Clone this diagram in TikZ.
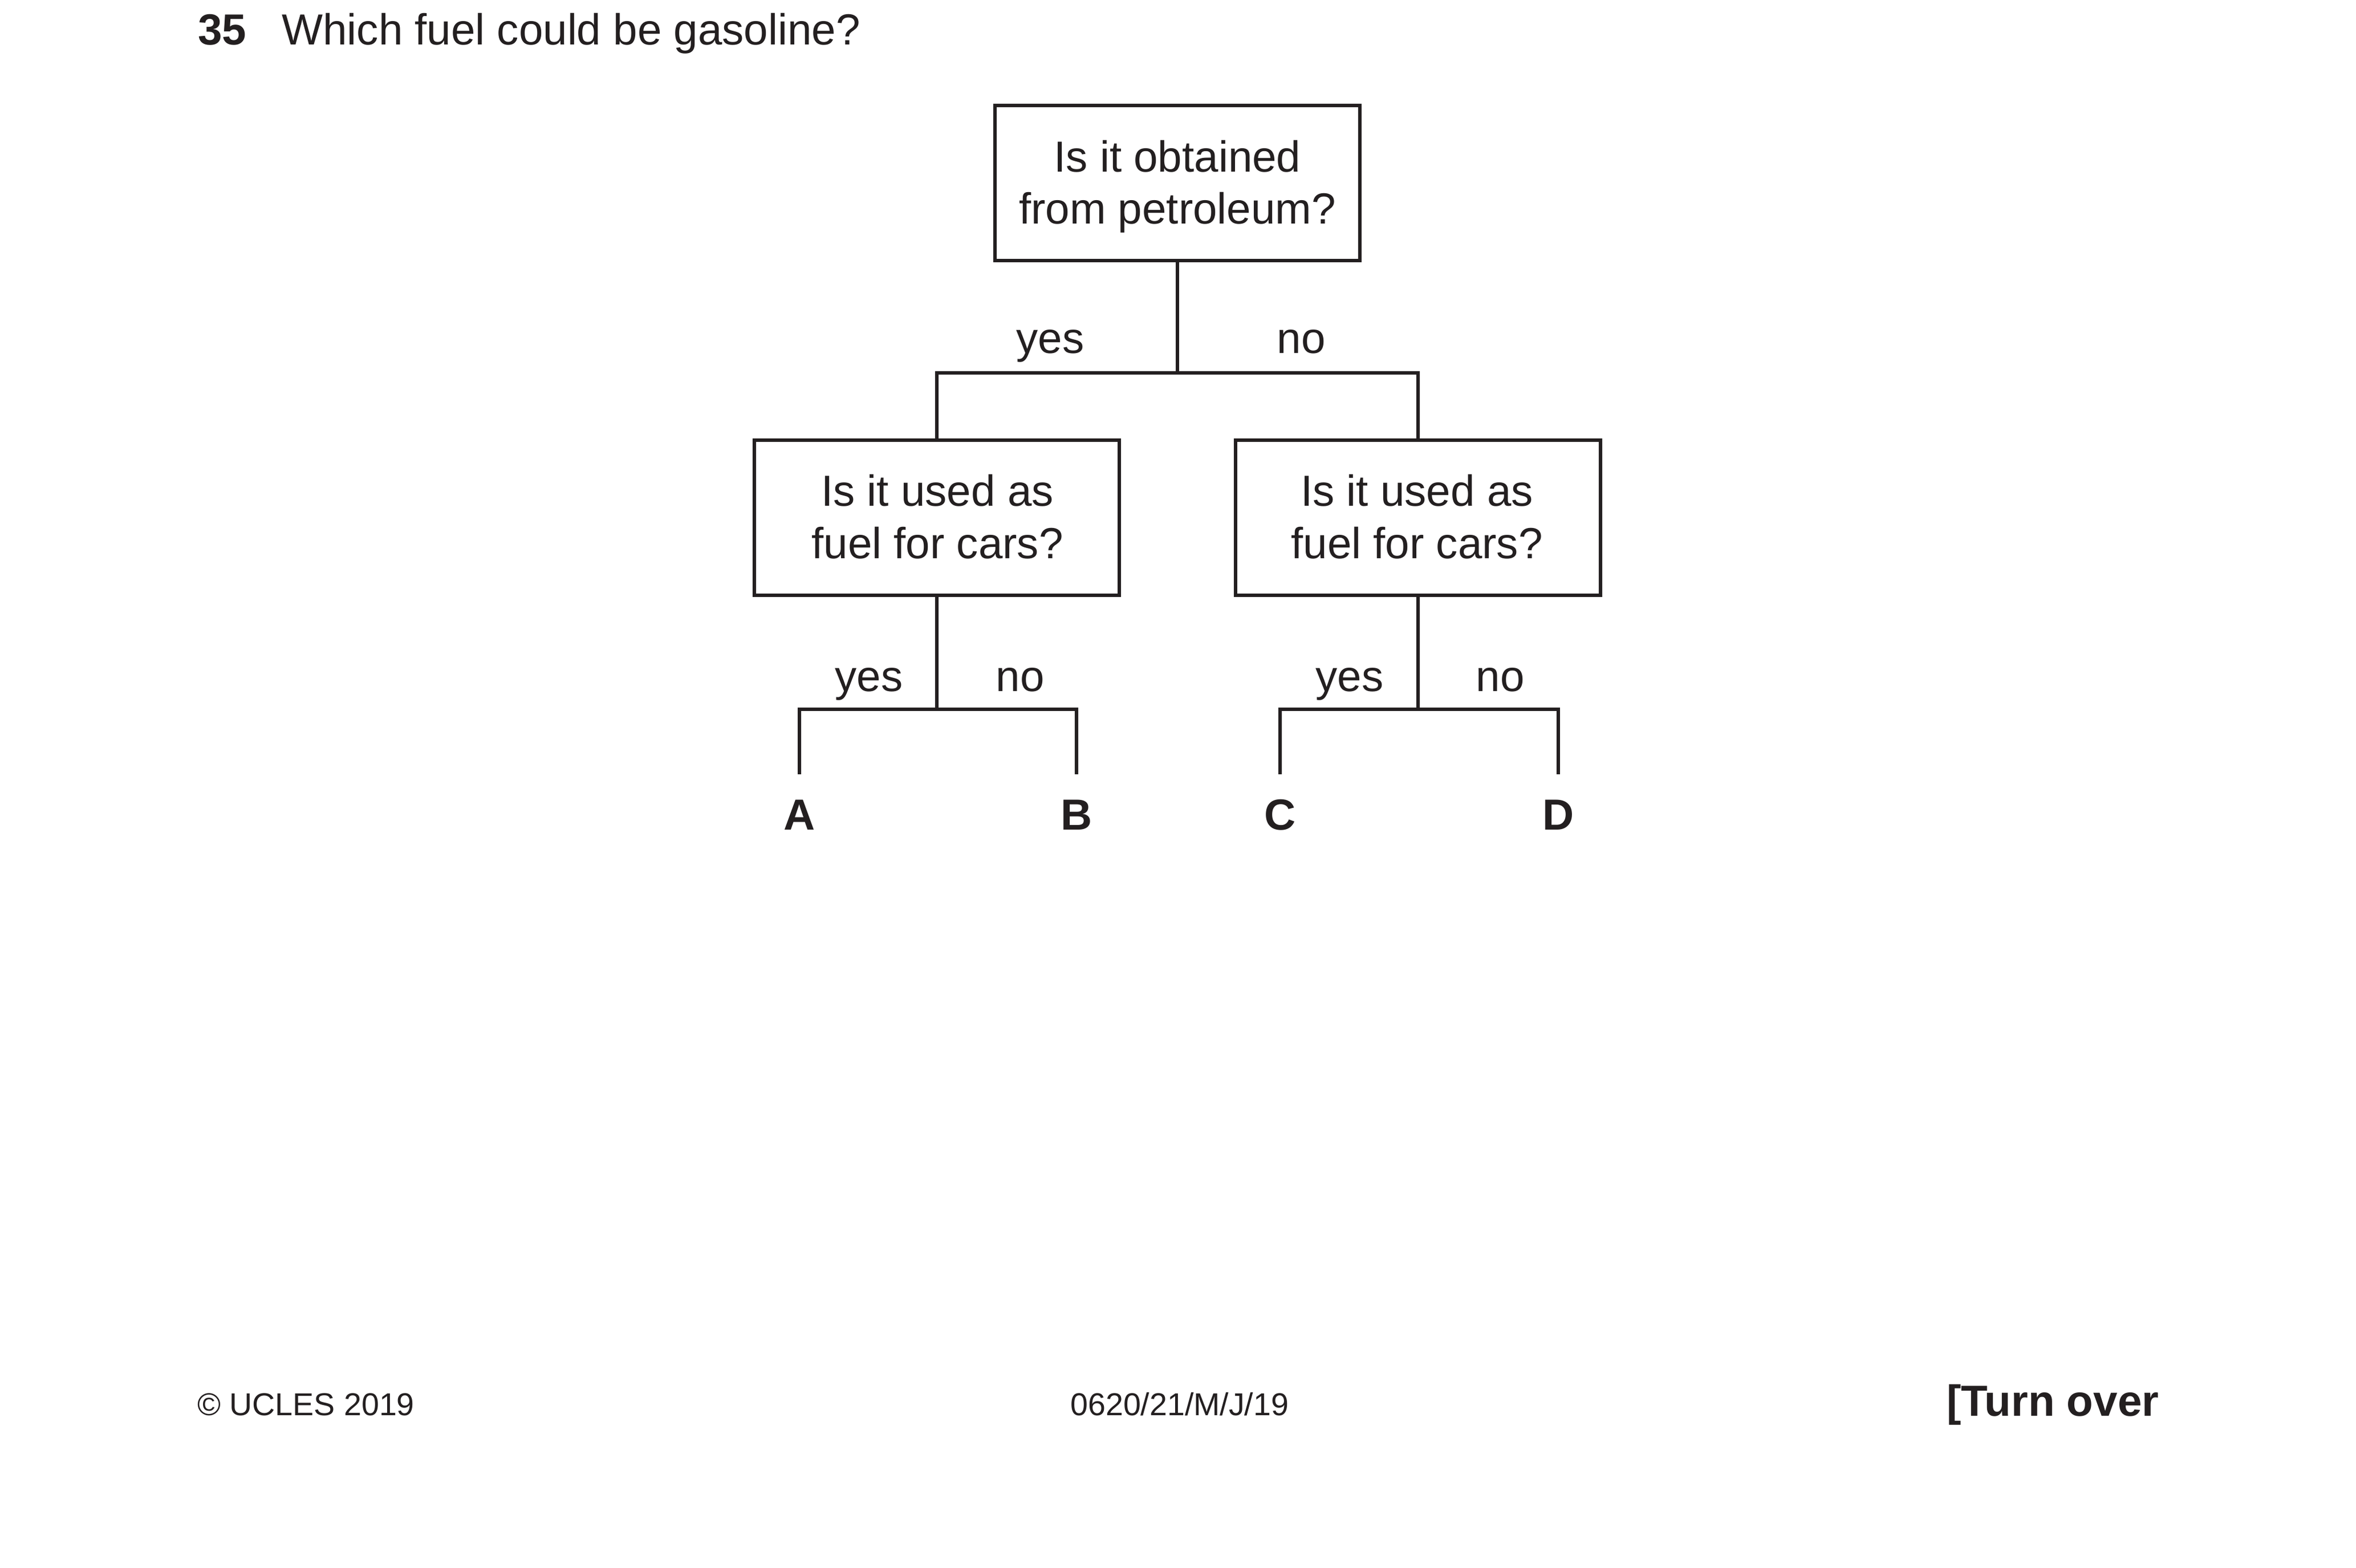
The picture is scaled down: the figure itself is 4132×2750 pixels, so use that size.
\documentclass[tikz,border=0pt]{standalone}
\usepackage{fontspec}
\setmainfont{Liberation Sans}
\definecolor{ink}{RGB}{35,31,32}
\tikzset{
  qbox/.style={draw=ink, line width=0.9pt, minimum width=92.2pt, minimum height=39.2pt, inner sep=0pt},
  qtext/.style={anchor=base, inner sep=0pt, text=ink, font=\fontsize{11pt}{13.2pt}\selectfont},
  lbl/.style={anchor=base, inner sep=0pt, text=ink, font=\fontsize{11pt}{13.2pt}\selectfont},
  leafl/.style={anchor=base, inner sep=0pt, text=ink, font=\fontsize{11pt}{13.2pt}\selectfont\bfseries},
  conn/.style={draw=ink, line width=0.9pt},
  foot/.style={anchor=base west, inner sep=0pt, text=ink, font=\fontsize{8pt}{9.6pt}\selectfont},
}
\begin{document}
\begin{tikzpicture}[x=0.14407pt, y=-0.14407pt]
\useasboundingbox (0,0) rectangle (4132,2750);
% title
\node[anchor=base west, inner sep=0pt, text=ink, font=\fontsize{11pt}{13.2pt}\selectfont\bfseries] (qnum) at (346,79) {35};
\node[anchor=base west, inner sep=0pt, text=ink, font=\fontsize{11pt}{13.2pt}\selectfont] (qtitle) at (493,79) {Which fuel could be gasoline?};
% boxes
\node[qbox] (q1) at (2065,321) {};
\node[qbox] (q2) at (1643,908) {};
\node[qbox] (q3) at (2487,908) {};
\node[qtext] (q1a) at (2065,302) {Is it obtained};
\node[qtext] (q1b) at (2065,393) {from petroleum?};
\node[qtext] (q2a) at (1644,888) {Is it used as};
\node[qtext] (q2b) at (1644,980) {fuel for cars?};
\node[qtext] (q3a) at (2485,888) {Is it used as};
\node[qtext] (q3b) at (2485,980) {fuel for cars?};
% junctions and leaf ends
\coordinate (j1) at (2065,654);
\coordinate (j2) at (1643,1244);
\coordinate (j3) at (2487,1244);
\coordinate (ea) at (1402,1358);
\coordinate (eb) at (1888,1358);
\coordinate (ec) at (2245,1358);
\coordinate (ed) at (2733,1358);
% connectors
\draw[conn] (q1.south) -- (j1);
\draw[conn] (q2.north) |- (j1) -| (q3.north);
\draw[conn] (q2.south) -- (j2);
\draw[conn] (ea) |- (j2) -| (eb);
\draw[conn] (q3.south) -- (j3);
\draw[conn] (ec) |- (j3) -| (ed);
% branch labels
\node[lbl] (y1) at (1842,620) {yes};
\node[lbl] (n1) at (2282,620) {no};
\node[lbl] (y2) at (1524,1213) {yes};
\node[lbl] (n2) at (1789,1213) {no};
\node[lbl] (y3) at (2367,1213) {yes};
\node[lbl] (n3) at (2631,1213) {no};
% leaves
\node[leafl] (A) at (1402,1456) {A};
\node[leafl] (B) at (1888,1456) {B};
\node[leafl] (C) at (2245,1456) {C};
\node[leafl] (D) at (2733,1456) {D};
% footer
\node[foot] (copy) at (345,2482) {© UCLES 2019};
\node[foot] (code) at (1876,2482) {0620/21/M/J/19};
\node[anchor=base west, inner sep=0pt, text=ink, font=\fontsize{11pt}{13.2pt}\selectfont\bfseries] (turn) at (3413,2483) {[Turn over};
\end{tikzpicture}
\end{document}
